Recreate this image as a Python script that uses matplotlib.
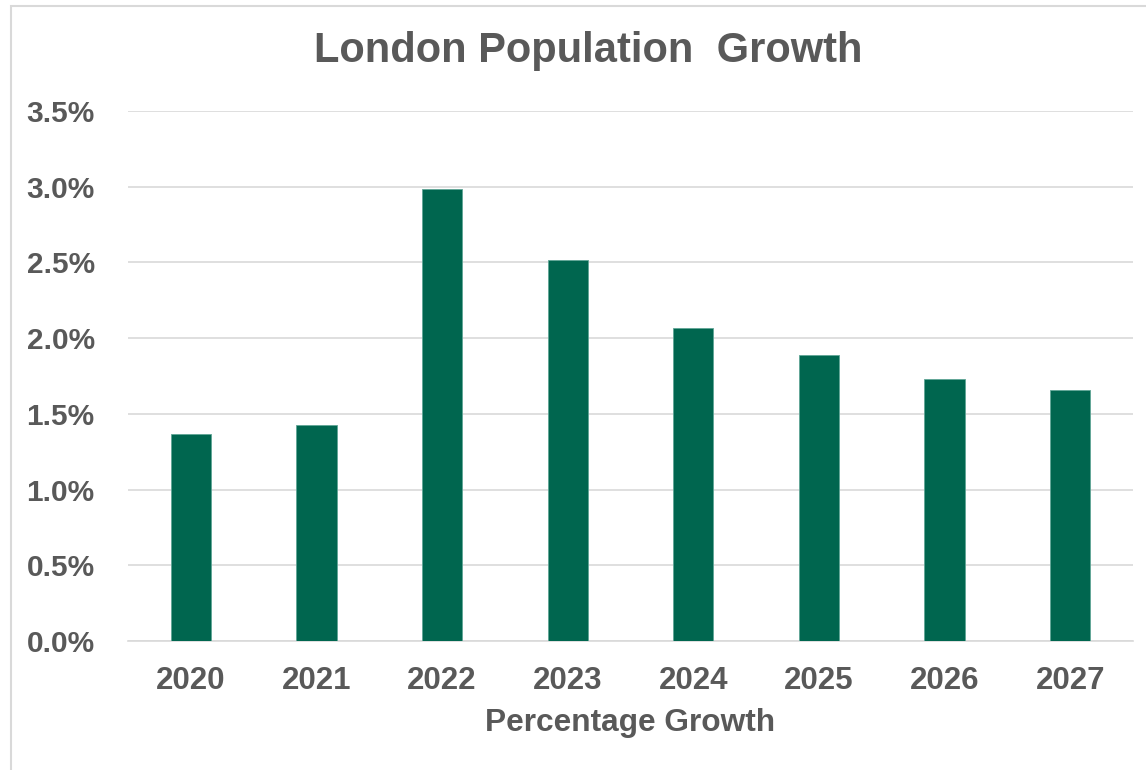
# London population growth bar chart (Excel style)
import matplotlib.pyplot as plt
from matplotlib.patches import Rectangle
from matplotlib.ticker import PercentFormatter

years = ['2020', '2021', '2022', '2023', '2024', '2025', '2026', '2027']
growth = [1.365, 1.425, 2.985, 2.515, 2.065, 1.89, 1.73, 1.66]

grey = '#595959'
green = '#00664F'
grid_col = '#D9D9D9'

plt.rcParams['font.family'] = ['Liberation Sans', 'DejaVu Sans']
plt.rcParams['font.weight'] = 'bold'

fig = plt.figure(figsize=(11.46, 7.7), dpi=100)
ax = fig.add_axes([128 / 1146, 1 - 641 / 770, (1133 - 128) / 1146, (641 - 111) / 770])

ax.bar(years, growth, width=0.32, color=green, edgecolor='#5FA596', linewidth=0.6, zorder=3)

ax.set_ylim(0, 3.5)
ax.set_yticks([0, 0.5, 1.0, 1.5, 2.0, 2.5, 3.0, 3.5])
ax.yaxis.set_major_formatter(PercentFormatter(decimals=1))
ax.set_xlim(-0.5, len(years) - 0.5)

ax.grid(axis='y', color=grid_col, linewidth=1.2, zorder=0)
for s in ['top', 'right', 'left']:
    ax.spines[s].set_visible(False)
ax.spines['bottom'].set_color(grid_col)
ax.spines['bottom'].set_linewidth(1.2)

ax.tick_params(axis='both', length=0, labelcolor=grey)
ax.tick_params(axis='y', pad=24, labelsize=21.5)
ax.tick_params(axis='x', pad=18, labelsize=22.5)
for lbl in ax.get_xticklabels() + ax.get_yticklabels():
    lbl.set_fontweight('bold')

ax.set_xlabel('Percentage Growth', fontsize=22.8, color=grey, fontweight='bold', labelpad=9)

fig.text(588 / 1146, 1 - 51 / 770, 'London Population  Growth', fontsize=30,
         color=grey, fontweight='bold', ha='center', va='center')

# chart border (only top and left edges show in the picture)
fig.patches.append(Rectangle((11 / 1146, -0.1), 1.2, 1 - 6 / 770 + 0.1,
                             transform=fig.transFigure, fill=False,
                             edgecolor='#D9D9D9', linewidth=1.5))

fig.savefig('out.png', dpi=100)
